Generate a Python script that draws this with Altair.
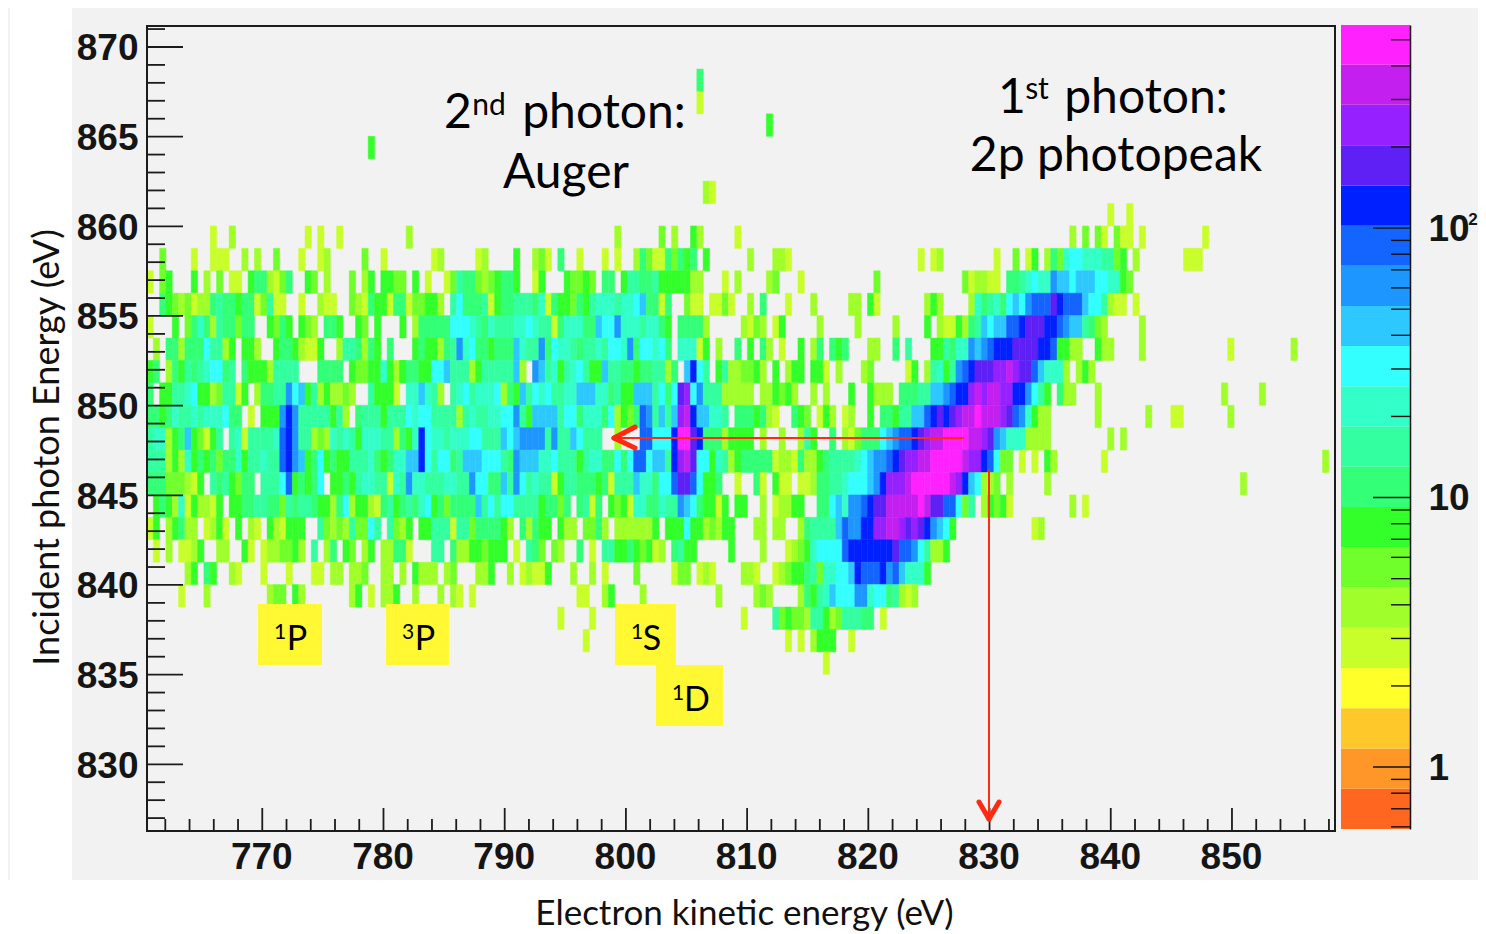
import altair as alt
import pandas as pd

# ---- colour levels, bottom to top of the palette bar ----
LEVEL_COLOURS = ["#ff6620", "#ff9628", "#ffc82a", "#ffff2a", "#c8ff2a", "#a0ff2a", "#70ff2a", "#33ff2a",
                 "#33ff77", "#33ffa0", "#33ffc8", "#33ffff", "#2dc8ff", "#1e96ff", "#1464ff", "#0020ff",
                 "#5e20f5", "#9620ff", "#c320f0", "#ff22ff"]
LEVEL_EDGES = [0.589, 0.831, 1.172, 1.652, 2.33, 3.29, 4.64, 6.54, 9.22, 13.0, 18.3, 25.9, 36.5, 51.4,
               72.5, 102, 144, 203, 287, 404, 567]
LEVEL_COUNTS = [0.7, 1, 1.4, 2, 2.8, 3.9, 5.5, 7.8, 11, 15.5, 22, 31, 44, 61, 86, 121, 170, 241, 340, 480]
LEVEL_SYMBOLS = "0123456789abcdefghij"

# ---- histogram rows, top to bottom: "first_bin:level_symbols", '.' is an empty bin ----
ROWS = [
    "87:8",
    "87:4",
    "98:7",
    "35:7",
    "",
    "88:54",
    "152:4 155:4",
    "10:4 13:5 25:4 27:4 30:4 41:5 74:5 81:6 83:5 86:75 93:4 146:5 148:6 150:64 153:6 154:44 157:4 167:4",
    "2:6 7:4 10:444 15:5 17:5 20:6 24:4 27:4 28:5 34:6 37:4 45:45 52:45 58:7 61:5 62:6 63:4 65:8 68:4 72:4 74:4 77:5 78:8 79:6 80:44 82:8 83:6 84:8 85:7 86:8 88:7 95:5 99:55 101:4 122:4 124:4 125:5 134:4 137:6 139:4 140:7 142:5 143:8 144:6 145:a 146:bb 148:aaa 151:99 153:6 154:7 156:5 164:444",
    "0:4 2:67 7:7 9:5 11:6 13:44 16:788 19:546 22:8 25:76 28:5 32:6 34:57 37:776 40:6 42:7 44:4 47:46 49:9 50:88 52:656 55:7 56:88 58:7 61:4 62:7 66:7 67:66 69:7 70:6 72:88 75:7 76:99 78:88 80:9 81:77 83:777 86:55 91:4 93:5 98:56 103:4 115:6 129:6 130:4 131:55 133:44 136:88 138:9 139:a 140:b 141:aa 143:d 144:cc 146:b 147:ccc 150:bb 152:aa 154:7 155:6",
    "2:87656455898878846944..4..544..654877488466775.9b88894788999 61:8a48776879aaa9aabc8848 85:644 89:44 91:64 95:5 97:8 101:4 105:5 111:55 114:74 123:575 130:5a89a8bcbdeee 143:gfeee 148:cbb9 152:5 153:44 156:4",
    "0:4...7.68a85988688..7687.765.887..76.7...7.588888bbba98a999aab 61:a9948aaa88cbbdaaa9aa87.88885 94:5465 99:47 106:5 112:5 118:5 123:7 125:5 126:44 128:75 130:89cbcc 136:eef 139:ggg 142:ff 144:edcc9865 157:5",
    "0:.5.885888b9957.775..78875447..5998587 38:8...78775 47:89dab887888ca9 61:9d8baa9899a9bbad8bbab8.aaa47.5..8.7.85.4 103:7 105:58 108:878 114:55 118:8 120:9 124:7798aadcdefffggggffe7755 150:755 157:5 171:4 181:5",
    "0:78.587989abb89.87775 20:9999...8888.76677a757 40:7887 44:7bbc9995799999c5. 61:dc9a79ab977c99887889 81:95 83:8.cfb9.7955665 96:75.7.577.774.5 113:56 120:47 123:59a79 128:defggghhihggecaaa5.575",
    "0:8.7799ab775699 14:47.58 19:899dbc7957556 32:5..97774.aaca95.9ab9aaab587c9 61:bab99aaccc 71:aa8977ccc9b8bghbd9 89:9955555.5576 101:75..5.5 111:7 114:7555 119:8 120:8899ccdeffhihiihhffdb97.855 150:5 170:5 176:5",
    "0:8878a99a9aaab88.4.777dfd99999795.89997999babb999959a99aabbd97 61:cccc9bb8aaa8b5768ed9c9chifccaa9.88878 98:54..876.475.45..7.88799 120:9ccefgfghiijiiihgeda755 150:5 158:5 162:44 171:5",
    "0:9aa578c76479.9a49999aefd99565a9a97aaa99587afbaa9aaabb999cbcdd 61:dd9d99cb999..5...eebbbfjjgf88857777.5..5..597..8.546888bcde 120:efghiijjjjiihgdcaaa5555 152:5 154:5",
    "0:999575a78786 12:88a799a99efdc78b7877999a878aaccfb9bb89cccbbb98dcc9 61:caab99979aa88b8beebcc9fhigbb7a957 94:88888 99:4554 103:8557 107:8 108:9999abcddefg 120:hhiijjjjjihhfeb66.4.4.75 151:4 186:5",
    "0:88866654 8:7.98976 15:88.999be7878b.77879aa994a9daa999aa99dbb88c9db9 61:a994799888784999caa8bbeggeb778..4..84.744.4458899abbbcdfhhh 120:ijjjjjjihfcb556.5 142:5 173:5",
    "0:.7875a475547.7788998869899877 29:58b5775489789 42:8ab7868888c9b9bb999 61:978868.8948.7674aa88a99dcb87747.77..5.45577..88bcaddefggiii 120:iijiggeeb69.57674 146:5 148:4",
    "0:47.57855.4574.7.54.75 21:4777..9656596 34:6b9.9657.77 45:9994 49:996888875.85 61:877.755.6685.5555557.777b7756577...55.55..58 105:9999cedd 113:ffhhiih 120:ghgfdcb7 140:45",
    "1:4 3:5 5:4457 11:55 15:74 18:4556675 26:9 28:58 31:76 34:57 37:55884 45:99 48:855776777 58:4 60:99 61:86 64:65 68:8 70:4 72:9977876745 83:8977 92:7 97:5 101:4567abbbbefffffffgeedb9557",
    "6:57 9:87 13:54 18:4 22:4 26:44 29:55 32:556 37:55 40:5 42:7555 47:56 52:557 57:5 59:45 61:4 62:4 63:7 67:5 70:5 72:4 77:6 83:466 87:454 94:554 99:45677896aabbcfeeefdecaaa7",
    "5:4 9:5 19:566 23:75 32:57 35:4 37:557 42:5 46:5 48:54 51:4 68:44 72:57 78:5 90:5 96:565 103:5879acbbbddabb89545",
    "65:4 70:4 94:4 99:96766599756999 113:88.4",
    "69:4 101:4 103:4 105:5 106:777 111:4",
    "107:4",
]

X_TICKS_MAJOR = [770, 780, 790, 800, 810, 820, 830, 840, 850]
X_TICKS_MINOR = [762, 764, 766, 768, 772, 774, 776, 778, 782, 784, 786, 788, 792, 794, 796, 798, 802, 804, 806, 808,
                 812, 814, 816, 818, 822, 824, 826, 828, 832, 834, 836, 838, 842, 844, 846, 848, 852, 854, 856, 858]
Y_TICKS_MAJOR = [830, 835, 840, 845, 850, 855, 860, 865, 870]
Y_TICKS_MINOR = [827, 828, 829, 831, 832, 833, 834, 836, 837, 838, 839, 841, 842, 843, 844, 846, 847, 848, 849,
                 851, 852, 853, 854, 856, 857, 858, 859, 861, 862, 863, 864, 866, 867, 868, 869, 871]
Z_TICKS_MAJOR = [1, 10, 100]
Z_TICKS_MINOR = [0.6, 0.7, 0.8, 0.9, 2, 3, 4, 5, 6, 7, 8, 9, 20, 30, 40, 50, 60, 70, 80, 90, 200, 300, 400, 500]

X_ORIGIN, X_BIN = 760.49, 0.5214
Y_TOP, Y_BIN = 868.77, 1.25

cells = []
for r, row in enumerate(ROWS):
    for chunk in row.split():
        start, syms = chunk.split(":")
        for i, s in enumerate(syms):
            if s != ".":
                c = int(start) + i
                cells.append({"x0": X_ORIGIN + c * X_BIN, "x1": X_ORIGIN + (c + 1) * X_BIN,
                              "y1": Y_TOP - r * Y_BIN, "y0": Y_TOP - (r + 1) * Y_BIN,
                              "count": LEVEL_COUNTS[LEVEL_SYMBOLS.index(s)]})
heat = pd.DataFrame(cells)
bar = pd.DataFrame({"lo": LEVEL_EDGES[:-1], "hi": LEVEL_EDGES[1:], "count": LEVEL_COUNTS})
one = pd.DataFrame({"a": [0]})

W, H = 1470, 926
L, R, T, B = 139, 1327, 18, 823
BAR_L, BAR_R = 1333, 1402
INK = "#1c1c1c"
LABEL = dict(labelFont="Liberation Sans", labelFontWeight="bold", labelFontSize=37, labelColor="#151515")
TITLE = dict(titleFont="Lato", titleFontWeight="normal", titleColor="#111")

xs = alt.Scale(domain=[760.49, 858.5], range=[L, R], nice=False, zero=False)
ys = alt.Scale(domain=[826.28, 871.17], range=[B, T], nice=False, zero=False)
zs = alt.Scale(type="log", domain=[0.589, 567], range=[821, 17], nice=False)
cs = alt.Scale(type="threshold", domain=LEVEL_EDGES[1:-1], range=LEVEL_COLOURS)


def box(x0, x1, y0, y1, colour):
    return alt.Chart(one).mark_rect(color=colour).encode(
        x=alt.value(x0), x2=alt.value(x1), y=alt.value(y0), y2=alt.value(y1))


def line(x0, y0, x1, y1, width=2.0, colour="#ff2a10"):
    return alt.Chart(one).mark_rule(color=colour, strokeWidth=width, strokeCap="round").encode(
        x=alt.value(x0 - 8), x2=alt.value(x1 - 8), y=alt.value(y0 - 8), y2=alt.value(y1 - 8))


def txt(s, px, py, size, colour="#000", font="Lato", weight="normal"):
    return alt.Chart(one).mark_text(text=s, font=font, fontWeight=weight, fontSize=size, color=colour, align="center",
                                    baseline="middle").encode(x=alt.value(px - 8), y=alt.value(py - 8))


def yticks(vals, n):
    return alt.Chart(pd.DataFrame({"t": vals})).mark_rule(color=INK, strokeWidth=1.8).encode(
        y=alt.Y("t:Q", scale=ys, axis=None), x=alt.value(L), x2=alt.value(L + n))


def xticks(vals, n):
    return alt.Chart(pd.DataFrame({"t": vals})).mark_rule(color=INK, strokeWidth=1.8).encode(
        x=alt.X("t:Q", scale=xs, axis=None), y=alt.value(B), y2=alt.value(B - n))


def zticks(vals, n):
    return alt.Chart(pd.DataFrame({"t": vals})).mark_rule(color="#111", strokeWidth=1.4).encode(
        y=alt.Y("t:Q", scale=zs, axis=None), x=alt.value(BAR_R - n), x2=alt.value(BAR_R))


heat_layer = alt.Chart(heat).mark_rect(strokeWidth=0.5).encode(
    x=alt.X("x0:Q", scale=xs, title="Electron kinetic energy (eV)",
            axis=alt.Axis(values=X_TICKS_MAJOR, format="d", tickSize=0, grid=False, domain=False, labelPadding=8,
                          labelOffset=-1, offset=B - H, titleBaseline="middle", titleY=82, titleX=736, titleFontSize=35,
                          zindex=1, **LABEL, **TITLE)),
    x2="x1:Q",
    y=alt.Y("y0:Q", scale=ys, title="Incident photon Energy (eV)",
            axis=alt.Axis(values=Y_TICKS_MAJOR, format="d", tickSize=0, grid=False, domain=False, labelPadding=9,
                          labelOffset=2, offset=-L, titlePadding=10, titleY=439, titleFontSize=36, zindex=1,
                          **LABEL, **TITLE)),
    y2="y1:Q",
    color=alt.Color("count:Q", scale=cs, legend=None),
    stroke=alt.Stroke("count:Q", scale=cs, legend=None),
)

bar_layer = alt.Chart(bar).mark_rect().encode(
    x=alt.value(BAR_L), x2=alt.value(BAR_R),
    y=alt.Y("lo:Q", scale=zs, title=None,
            axis=alt.Axis(orient="right", values=Z_TICKS_MAJOR, labelExpr="datum.value == 1 ? '1' : '10'",
                          tickSize=0, grid=False, domain=True, domainColor="#111", domainWidth=1.5, labelPadding=18,
                          labelOffset=1, labelAlign="left", offset=BAR_R - W, zindex=1, **LABEL)),
    y2="hi:Q",
    color=alt.Color("count:Q", scale=cs, legend=None),
)

frame = alt.Chart(one).mark_rect(fill="#f2f2f2", fillOpacity=0, stroke=INK, strokeWidth=2).encode(
    x=alt.value(L), x2=alt.value(R), y=alt.value(T), y2=alt.value(B))

notes = [
    box(64, W, 0, 872, "#f2f2f2"),
    box(0, 2, 0, 872, "#f2f2f2"),
]

labels = [
    box(250, 314, 596, 657, "#fff833"), box(378, 441, 596, 657, "#fff833"),
    box(607, 668, 596, 657, "#fff833"), box(648, 715, 657, 718, "#fff833"),
    txt("1", 280, 633, 21), txt("P", 297, 640, 34),
    txt("3", 408, 633, 21), txt("P", 425, 640, 34),
    txt("1", 637, 633, 21), txt("S", 652, 640, 34),
    txt("1", 678, 694, 21), txt("D", 697, 701, 34),
    txt("2", 458, 114, 48), txt("nd", 489, 106, 30), txt("photon:", 604, 114, 48),
    txt("Auger", 566, 174, 48),
    txt("1", 1012, 99, 48), txt("st", 1037, 90, 30), txt("photon:", 1146, 99, 48),
    txt("2p photopeak", 1116, 157, 48),
    txt("2", 1473, 220, 17, colour="#151515", font="Liberation Sans", weight="bold"),
    line(963, 438, 614, 438), line(614, 438, 635, 427, 5), line(614, 438, 635, 448, 5),
    line(989, 470, 989, 819), line(989, 819, 979, 802, 5), line(989, 819, 999, 802, 5),
]

chart = alt.layer(
    *notes,
    heat_layer,
    bar_layer,
    yticks(Y_TICKS_MAJOR, 36), yticks(Y_TICKS_MINOR, 18),
    xticks(X_TICKS_MAJOR, 23), xticks(X_TICKS_MINOR, 12),
    zticks(Z_TICKS_MAJOR, 37), zticks(Z_TICKS_MINOR, 19),
    frame,
    *labels,
).resolve_scale(y="independent").resolve_axis(x="independent").properties(
    width=W, height=H, padding=0, autosize=alt.AutoSizeParams(type="none"), background="white",
).configure_view(stroke=None)

chart.save("out.html", embed_options={"renderer": "svg", "actions": False})
